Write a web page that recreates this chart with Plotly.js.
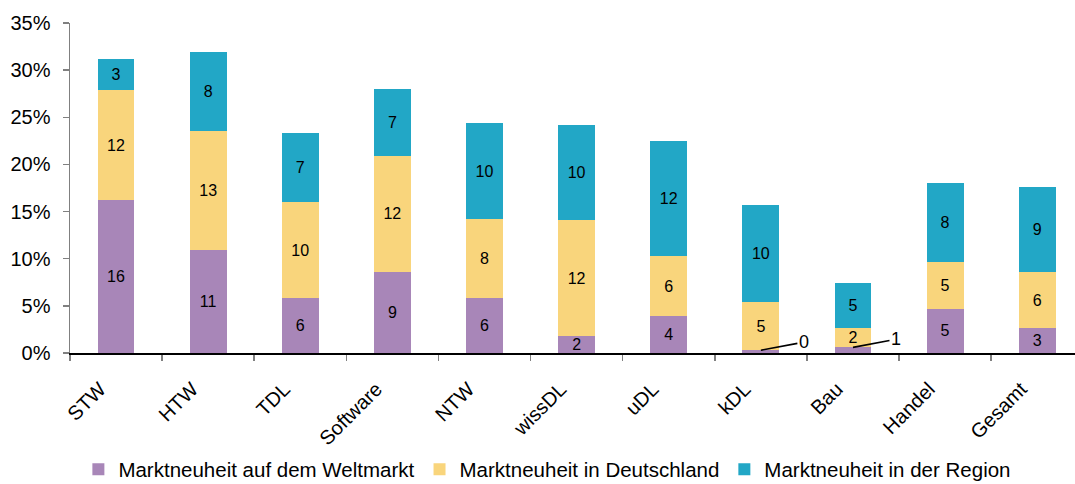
<!DOCTYPE html>
<html>
<head>
<meta charset="utf-8">
<script src="https://cdn.plot.ly/plotly-3.0.1.min.js"></script>
<style>
html,body{margin:0;padding:0;background:#fff;overflow:hidden;}
#chart{width:1075px;height:484px;}
</style>
</head>
<body>
<div id="chart"></div>
<script>
const categories = ['STW','HTW','TDL','Software','NTW','wissDL','uDL','kDL','Bau','Handel','Gesamt'];
const weltmarkt   = [16.2, 10.9, 5.8, 8.6, 5.8, 1.8, 3.9, 0.3, 0.6, 4.7, 2.6];
const deutschland = [11.7, 12.6, 10.2, 12.3, 8.4, 12.3, 6.4, 5.1, 2.0, 4.9, 6.0];
const region      = [3.3, 8.4, 7.3, 7.1, 10.2, 10.1, 12.2, 10.3, 4.8, 8.4, 9.0];
const seriesNames = ['Marktneuheit auf dem Weltmarkt','Marktneuheit in Deutschland','Marktneuheit in der Region'];
const colors = ['#A886B8','#F9D57C','#22A7C6'];

const sans = 'Liberation Sans, Arial, sans-serif';

function labels(vals){ return vals.map(v => v < 1 ? '' : String(Math.round(v))); }

const data = [weltmarkt, deutschland, region].map((vals, i) => ({
  type: 'bar',
  name: seriesNames[i],
  x: categories,
  y: vals,
  marker: {color: colors[i], line: {width: 0}},
  text: labels(vals),
  textposition: 'inside',
  textangle: 0,
  insidetextanchor: 'middle',
  textfont: {family: sans, size: 16, color: '#000'},
  hoverinfo: 'skip'
}));

const annotations = [];
weltmarkt.forEach((v, i) => {
  if (v < 1) {
    annotations.push({
      x: categories[i], y: v, xref: 'x', yref: 'y',
      text: String(Math.round(v)),
      showarrow: true, arrowhead: 0, arrowwidth: 1.6, arrowcolor: '#000',
      ax: 43, ay: -8,
      font: {family: sans, size: 18, color: '#000'}
    });
  }
});

const layout = {
  width: 1075, height: 484,
  margin: {l: 70, r: 0, t: 23, b: 131},
  paper_bgcolor: '#fff', plot_bgcolor: '#fff',
  barmode: 'stack',
  bargap: 0.6,
  showlegend: true,
  legend: {
    orientation: 'h', traceorder: 'normal',
    x: 0.475, xanchor: 'center',
    yref: 'container', y: 0.03, yanchor: 'middle',
    font: {family: sans, size: 20.5, color: '#000'},
    itemclick: false, itemdoubleclick: false
  },
  xaxis: {
    range: [-0.5, 10.41],
    showline: true, linecolor: '#000', linewidth: 1.5,
    ticks: 'outside', tickson: 'boundaries', ticklen: 6, tickcolor: '#808080', tickwidth: 1.5,
    tickangle: -45,
    ticklabelshift: -16, ticklabelstandoff: 15,
    tickfont: {family: sans, size: 20, color: '#000'},
    showgrid: false, zeroline: false, fixedrange: true, automargin: false
  },
  yaxis: {
    range: [0, 35], dtick: 5, ticksuffix: '%',
    showline: true, linecolor: '#808080', linewidth: 1.5,
    ticks: 'outside', ticklen: 6, tickcolor: '#808080', tickwidth: 1.5,
    ticklabelstandoff: 8,
    tickfont: {family: sans, size: 20, color: '#000'},
    showgrid: false, zeroline: false, fixedrange: true, automargin: false
  },
  annotations: annotations,
  uniformtext: {mode: 'show', minsize: 16}
};

Plotly.newPlot('chart', data, layout, {displayModeBar: false, staticPlot: true});
</script>
</body>
</html>
